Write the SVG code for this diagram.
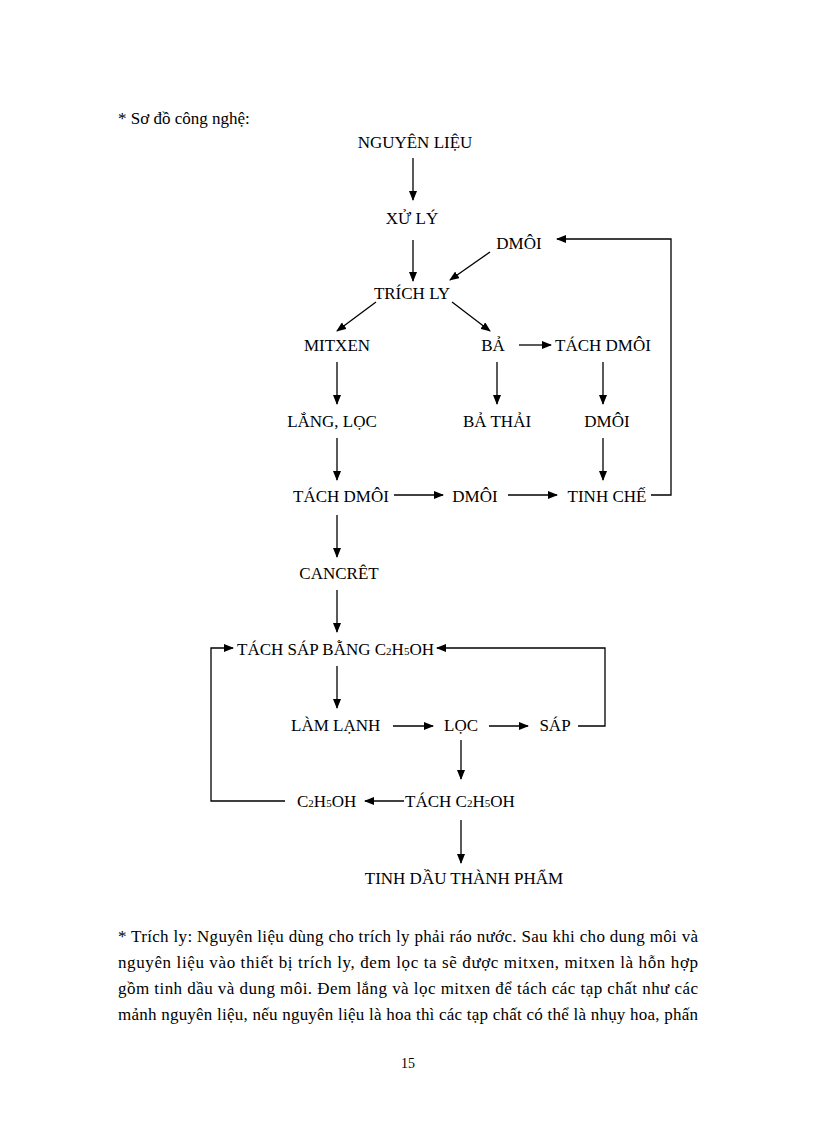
<svg xmlns="http://www.w3.org/2000/svg" width="816" height="1123" viewBox="0 0 816 1123">
<defs>
<marker id="ah" markerWidth="10" markerHeight="8" refX="9" refY="4" orient="auto" markerUnits="userSpaceOnUse"><path d="M0,0 L10,4 L0,8 Z" fill="#000"/></marker>
<style>
text{font-family:"Liberation Serif","Times New Roman",serif;font-size:17px;fill:#000}
.c{text-anchor:middle}
.s{font-size:11px}
.p{font-size:17px}
line,polyline{stroke:#000;stroke-width:1.3;fill:none}
</style>
</defs>
<rect width="816" height="1123" fill="#fff"/>
<text x="118" y="124">* Sơ đồ công nghệ:</text>
<g id="n1"><text class="c" x="415" y="148">NGUYÊN LIỆU</text></g>
<g id="n2"><text class="c" x="412" y="224">XỬ LÝ</text></g>
<g id="n3"><text class="c" x="519" y="249">DMÔI</text></g>
<g id="n4"><text class="c" x="412" y="299">TRÍCH LY</text></g>
<g id="n5"><text class="c" x="337" y="351">MITXEN</text></g>
<g id="n6"><text class="c" x="493" y="351">BẢ</text></g>
<g id="n7"><text class="c" x="603" y="351">TÁCH DMÔI</text></g>
<g id="n8"><text class="c" x="332" y="427">LẮNG, LỌC</text></g>
<g id="n9"><text class="c" x="497" y="427">BẢ THẢI</text></g>
<g id="n10"><text class="c" x="607" y="427">DMÔI</text></g>
<g id="n11"><text x="293" y="502">TÁCH DMÔI</text></g>
<g id="n12"><text class="c" x="475" y="502">DMÔI</text></g>
<g id="n13"><text class="c" x="607" y="502">TINH CHẾ</text></g>
<g id="n14"><text class="c" x="339" y="579">CANCRÊT</text></g>
<g id="n15"><text x="237" y="655">TÁCH SÁP BẰNG C<tspan class="s">2</tspan>H<tspan class="s">5</tspan>OH</text></g>
<g id="n16"><text x="291" y="731">LÀM LẠNH</text></g>
<g id="n17"><text class="c" x="461" y="731">LỌC</text></g>
<g id="n18"><text class="c" x="555" y="731">SÁP</text></g>
<g id="n19"><text x="297" y="807">C<tspan class="s">2</tspan>H<tspan class="s">5</tspan>OH</text></g>
<g id="n20"><text x="405" y="807">TÁCH C<tspan class="s">2</tspan>H<tspan class="s">5</tspan>OH</text></g>
<g id="n21"><text class="c" x="464" y="884">TINH DẦU THÀNH PHẨM</text></g>
<g id="connectors">
<line x1="413" y1="158" x2="413" y2="200" marker-end="url(#ah)"/>
<line x1="413" y1="240" x2="413" y2="281" marker-end="url(#ah)"/>
<line x1="490" y1="252" x2="450" y2="280" marker-end="url(#ah)"/>
<line x1="376" y1="302" x2="337" y2="331" marker-end="url(#ah)"/>
<line x1="452" y1="302" x2="490" y2="331" marker-end="url(#ah)"/>
<line x1="519" y1="345" x2="551" y2="345" marker-end="url(#ah)"/>
<line x1="337" y1="362" x2="337" y2="404" marker-end="url(#ah)"/>
<line x1="497" y1="362" x2="497" y2="404" marker-end="url(#ah)"/>
<line x1="603" y1="362" x2="603" y2="404" marker-end="url(#ah)"/>
<line x1="337" y1="438" x2="337" y2="480" marker-end="url(#ah)"/>
<line x1="603" y1="438" x2="603" y2="480" marker-end="url(#ah)"/>
<line x1="394" y1="495" x2="443" y2="495" marker-end="url(#ah)"/>
<line x1="508" y1="495" x2="557" y2="495" marker-end="url(#ah)"/>
<polyline points="651,495 671,495 671,239 557,239" marker-end="url(#ah)"/>
<line x1="337" y1="515" x2="337" y2="557" marker-end="url(#ah)"/>
<line x1="337" y1="590" x2="337" y2="632" marker-end="url(#ah)"/>
<polyline points="285,801 211,801 211,648 233,648" marker-end="url(#ah)"/>
<polyline points="578,726 605,726 605,648 437,648" marker-end="url(#ah)"/>
<line x1="337" y1="666" x2="337" y2="708" marker-end="url(#ah)"/>
<line x1="393" y1="726" x2="433" y2="726" marker-end="url(#ah)"/>
<line x1="489" y1="726" x2="528" y2="726" marker-end="url(#ah)"/>
<line x1="461" y1="740" x2="461" y2="779" marker-end="url(#ah)"/>
<line x1="404" y1="801" x2="365" y2="801" marker-end="url(#ah)"/>
<line x1="461" y1="820" x2="461" y2="863" marker-end="url(#ah)"/>
</g>
<text x="118" y="942" textLength="580" lengthAdjust="spacing">* Trích ly: Nguyên liệu dùng cho trích ly phải ráo nước. Sau khi cho dung môi và</text>
<text x="118" y="968" textLength="580" lengthAdjust="spacing">nguyên liệu vào thiết bị trích ly, đem lọc ta sẽ được mitxen, mitxen là hỗn hợp</text>
<text x="118" y="994" textLength="580" lengthAdjust="spacing">gồm tinh dầu và dung môi. Đem lắng và lọc mitxen để tách các tạp chất như các</text>
<text x="118" y="1020" textLength="580" lengthAdjust="spacing">mảnh nguyên liệu, nếu nguyên liệu là hoa thì các tạp chất có thể là nhụy hoa, phấn</text>
<text class="c" x="408" y="1068" style="font-size:14px">15</text>
</svg>
